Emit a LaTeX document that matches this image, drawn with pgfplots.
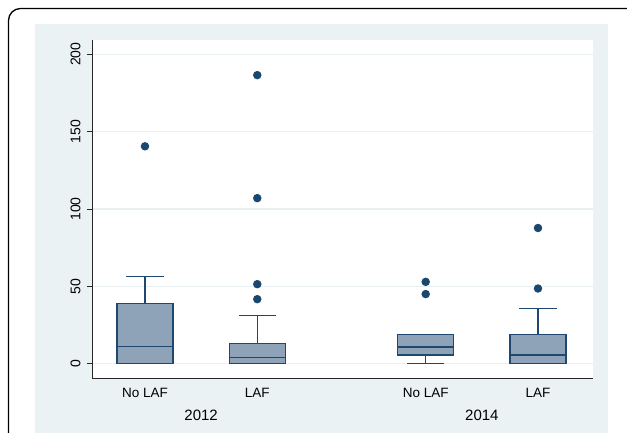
\documentclass[border=0pt]{standalone}
\usepackage{fontspec}
\setmainfont{Liberation Sans}
\usepackage{pgfplots}
\pgfplotsset{compat=1.18}
\usepgfplotslibrary{statistics}
\definecolor{navy}{RGB}{26,71,111}
\definecolor{boxedge}{RGB}{30,72,112}
\definecolor{boxfill}{RGB}{142,163,184}
\definecolor{panel}{RGB}{234,242,243}
\definecolor{gridc}{RGB}{232,240,242}

\begin{document}
\begin{tikzpicture}[x=1pt,y=1pt]
\begin{scope}
\clip (0,0) rectangle (627,432);
% outer frame (left and top edges) and graph region
\draw[line width=1.3pt] (8.5,-10) -- (8.5,411.5) arc[start angle=180, end angle=90, radius=12] -- (700,423.5);
\fill[panel] (35,-5) rectangle (608,408);
\end{scope}
\begin{axis}[
  at={(92pt,54pt)}, anchor=south west, scale only axis,
  width=501pt, height=338pt,
  xmin=0.528, xmax=4.99, ymin=-9.24, ymax=209.2,
  axis x line*=bottom, axis y line*=left,
  axis line style={line width=0.9pt, black!85},
  xtick={1,2,3.5,4.5},
  xticklabels={No LAF,LAF,No LAF,LAF},
  x tick style={draw=none},
  ytick={0,50,100,150,200},
  y tick style={black!85, line width=0.8pt},
  tick align=outside, major tick length=5pt,
  ymajorgrids, grid style={gridc, line width=1.2pt},
  yticklabel style={rotate=90, anchor=south, font=\fontsize{14}{15}\selectfont},
  yticklabel shift=3pt,
  xticklabel style={font=\fontsize{13.5}{14}\selectfont, yshift=-2pt},
  /pgf/number format/assume math mode=true,
  axis background/.style={fill=white},
  clip=false,
  boxplot/draw direction=y,
  mybox/.style={draw=boxedge, fill=boxfill, line width=1.2pt, solid,
    mark=*, mark size=3.6pt,
    mark options={draw=none, fill=navy}},
]
% 2012, no LAF
\addplot[mybox, boxplot prepared={draw position=1,
  lower whisker=0, lower quartile=0, median=11.2,
  upper quartile=39, upper whisker=56.3,
  box extend=0.5, whisker extend=0.33}]
  coordinates {(0,140.5)};
% 2012, LAF
\addplot[mybox, boxplot prepared={draw position=2,
  lower whisker=0, lower quartile=0, median=4,
  upper quartile=13.3, upper whisker=31,
  box extend=0.5, whisker extend=0.33}]
  coordinates {(0,41.7) (0,51.4) (0,107) (0,186.5)};
% 2014, no LAF
\addplot[mybox, boxplot prepared={draw position=3.5,
  lower whisker=0, lower quartile=5.6, median=10.8,
  upper quartile=18.7, upper whisker=18.7,
  box extend=0.5, whisker extend=0.33}]
  coordinates {(0,45) (0,52.9)};
% 2014, LAF
\addplot[mybox, boxplot prepared={draw position=4.5,
  lower whisker=0, lower quartile=0, median=5.6,
  upper quartile=18.7, upper whisker=35.7,
  box extend=0.5, whisker extend=0.33}]
  coordinates {(0,48.6) (0,87.7)};
% year labels under each pair
\node[font=\fontsize{15}{16}\selectfont] at (axis cs:1.5,-9.24) [yshift=-37pt] {2012};
\node[font=\fontsize{15}{16}\selectfont] at (axis cs:4,-9.24) [yshift=-37pt] {2014};
\end{axis}
\pgfresetboundingbox
\path[use as bounding box] (0,0) rectangle (627,432);
\end{tikzpicture}
\end{document}
